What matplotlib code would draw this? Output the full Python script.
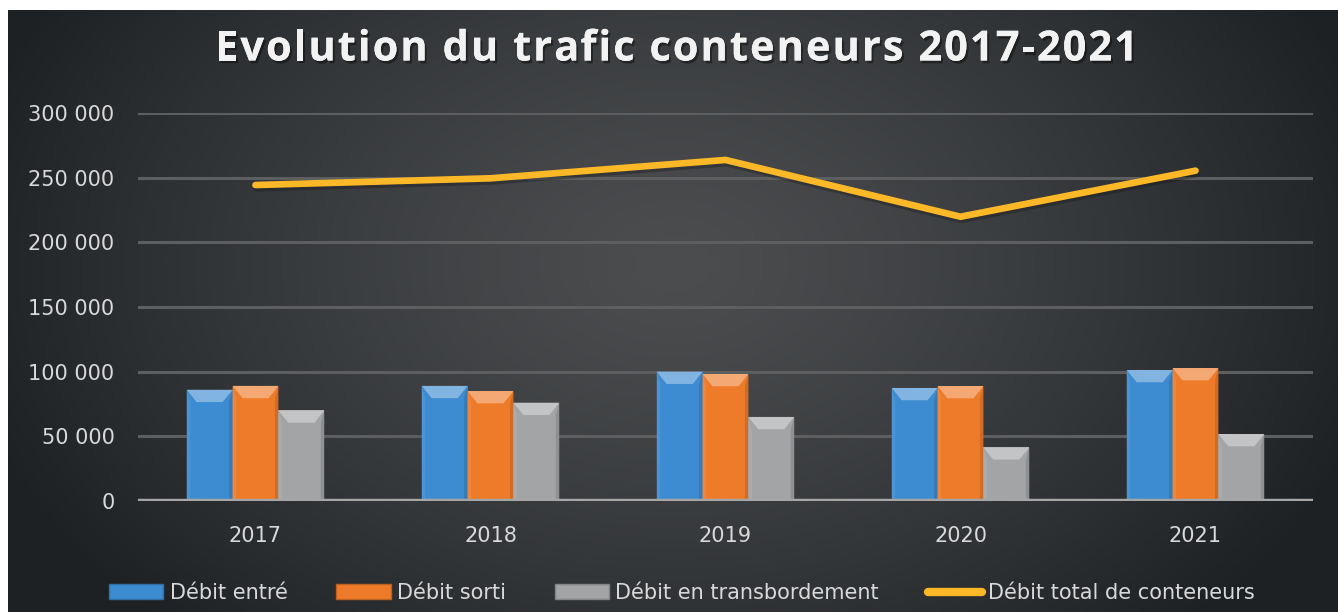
import numpy as np
import matplotlib
matplotlib.use("Agg")
import matplotlib.pyplot as plt
from matplotlib.patches import Polygon, Patch
from matplotlib.lines import Line2D
from matplotlib.ticker import FuncFormatter
import matplotlib.colors as mcolors
import matplotlib.patheffects as pe
import matplotlib.transforms as mtransforms

years = ["2017", "2018", "2019", "2020", "2021"]
debit_entre = [86000, 89000, 100000, 87400, 101300]
debit_sorti = [89000, 85000, 98200, 88900, 102800]
debit_transb = [70000, 76000, 65000, 41500, 51800]
debit_total = [244300, 249500, 263700, 219800, 255400]

series_names = ["Débit entré", "Débit sorti", "Débit en transbordement"]
series_colors = ["#3d8bd0", "#ee7b2a", "#a2a4a6"]
line_name = "Débit total de conteneurs"
line_color = "#fdb827"
title = "Evolution du trafic conteneurs 2017-2021"

plt.rcParams['font.family'] = ['DejaVu Sans']

W, H = 1338, 612
fig = plt.figure(figsize=(W / 100, H / 100), dpi=100, facecolor="white")

# background panel with radial gradient
bg = fig.add_axes([8 / W, 0, 1 - 8 / W, 1 - 10 / H])
bg.set_axis_off()
ny, nx = 300, 660
yy, xx = np.mgrid[0:ny, 0:nx]
cx, cy = nx * 0.5, ny * 0.42
d = np.sqrt(((xx - cx) / (nx * 0.55)) ** 2 + ((yy - cy) / (ny * 0.85)) ** 2)
d = np.clip(d, 0, 1) ** 1.3
light = np.array(mcolors.to_rgb("#4b4d4f"))
dark = np.array(mcolors.to_rgb("#1e2124"))
img = light[None, None, :] * (1 - d[..., None]) + dark[None, None, :] * d[..., None]
bg.imshow(img, aspect="auto", extent=[0, 1, 0, 1], origin="upper")
bg.set_xlim(0, 1)
bg.set_ylim(0, 1)

ax = fig.add_axes([138 / W, 111 / H, (1313 - 138) / W, (501 - 113) / H])
ax.set_facecolor("none")
for s in ax.spines.values():
    s.set_visible(False)

x = np.arange(len(years))
bw = 0.195
offsets = [-bw, 0, bw]
all_series = [debit_entre, debit_sorti, debit_transb]

ax.set_xlim(-0.5, len(years) - 0.5)
ax.set_ylim(0, 300000)
ax.set_yticks(np.arange(0, 300001, 50000))
ax.yaxis.set_major_formatter(FuncFormatter(lambda v, p: f"{int(v):,}".replace(",", " ")))
ax.grid(axis="y", color="#5c5e60", linewidth=2.2, zorder=0)
ax.set_axisbelow(True)
ax.tick_params(axis="both", length=0, colors="#d9d9d9", labelsize=15)
ax.tick_params(axis="y", pad=17)
ax.tick_params(axis="x", pad=18)
ax.set_xticks(x)
ax.set_xticklabels(years)

def lighten(c, f):
    c = np.array(mcolors.to_rgb(c))
    return tuple(c + (1 - c) * f)

def darken(c, f):
    c = np.array(mcolors.to_rgb(c))
    return tuple(c * (1 - f))

dy = 9500
dx = 0.042
for vals, off, col in zip(all_series, offsets, series_colors):
    bars = ax.bar(x + off, vals, width=bw, color=col, zorder=3, linewidth=0)
    for b in bars:
        x0 = b.get_x(); w = b.get_width(); h = b.get_height()
        top = Polygon([(x0, h), (x0 + w, h), (x0 + w - dx, h - dy), (x0 + dx, h - dy)],
                      closed=True, facecolor=lighten(col, 0.35), edgecolor="none", zorder=4)
        left = Polygon([(x0, h), (x0 + dx * 0.35, h - dy), (x0 + dx * 0.35, 0), (x0, 0)],
                       closed=True, facecolor=lighten(col, 0.08), edgecolor="none", zorder=4)
        right = Polygon([(x0 + w, h), (x0 + w - dx * 0.35, h - dy), (x0 + w - dx * 0.35, 0), (x0 + w, 0)],
                        closed=True, facecolor=darken(col, 0.12), edgecolor="none", zorder=4)
        ax.add_patch(top); ax.add_patch(left); ax.add_patch(right)

ax.axhline(0, color="#a6a6a6", linewidth=3.2, zorder=5)

ax.plot(x, debit_total, color="#15171a", linewidth=5, alpha=0.35, zorder=5,
        solid_capstyle="round",
        transform=ax.transData + mtransforms.ScaledTranslation(1/100, -3/100, fig.dpi_scale_trans))
ax.plot(x, debit_total, color=line_color, linewidth=4.8, zorder=6, solid_capstyle="round",
        solid_joinstyle="miter")

# title with letter spacing
renderer = fig.canvas.get_renderer()
tfont = dict(fontsize=30, fontweight="bold", family=["Open Sans", "DejaVu Sans"])
probe = fig.text(0, 0, "|", **tfont)
bar_w = probe.get_window_extent(renderer).width
def adv(s):
    probe.set_text(s + "|")
    return probe.get_window_extent(renderer).width - bar_w
natural = adv(title)
left_px, right_px = 215, 1138
spacing = (right_px - left_px - natural) / (len(title) - 1)
positions = [left_px + adv(title[:i]) + i * spacing for i in range(len(title))]
probe.remove()
shadow = [pe.withSimplePatchShadow(offset=(1.5, -2), shadow_rgbFace="black", alpha=0.4),
          pe.Normal()]
for ch, xp in zip(title, positions):
    if ch == " ":
        continue
    fig.text(xp / W, 1 - 50 / H, ch, ha="left", va="center", color="#f2f2f2",
             path_effects=shadow, **tfont)

handles = [Patch(facecolor=c, edgecolor=darken(c, 0.2), linewidth=1) for c in series_colors]
handles.append(Line2D([0], [0], color=line_color, linewidth=6, solid_capstyle="round"))
leg = fig.legend(handles, series_names + [line_name], loc="center", ncol=4,
                 bbox_to_anchor=(682 / W, 1 - 593 / H), frameon=False, fontsize=15,
                 labelcolor="#d9d9d9", handlelength=2.6, handleheight=0.7,
                 handletextpad=0.3, columnspacing=2.35)

fig.savefig("out.png", dpi=100, facecolor="white")
